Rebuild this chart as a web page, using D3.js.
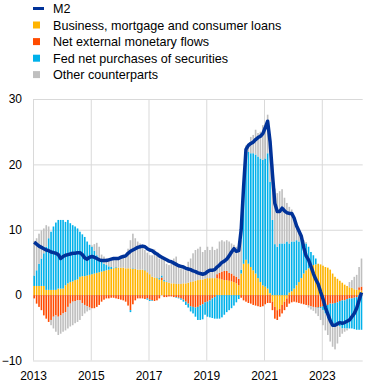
<!DOCTYPE html>
<html>
<head>
<meta charset="utf-8">
<script src="https://cdn.jsdelivr.net/npm/d3@7"></script>
<style>
  body { margin: 0; background: #fff; }
  svg { display: block; font-family: "Liberation Sans", Arial, sans-serif; }
</style>
</head>
<body>
<svg id="chart" width="370" height="386"></svg>
<script>
// monthly categories, Jan 2013 .. May 2024
var months = d3.timeMonth.range(new Date(2013, 0, 1), new Date(2024, 5, 1));

var xTickIdx = [0, 24, 48, 72, 96, 120];
var xTickLabels = ["2013", "2015", "2017", "2019", "2021", "2023"];
var yTicks = [-10, 0, 10, 20, 30];

// contributions, percentage points
var loans = [
  1.4, 1.4, 1.4, 1.4, 1.4, 0.8, 0.8, 0.8, 0.8, 0.8,
  1.0, 1.0, 1.0, 1.5, 1.8, 2.0, 2.1, 2.3, 2.4, 2.8,
  2.9, 2.9, 3.0, 3.1, 3.2, 3.3, 3.4, 3.5, 3.6, 3.7,
  3.8, 3.9, 4.0, 4.1, 4.2, 4.2, 4.2, 4.2, 4.1, 4.1,
  4.1, 4.0, 4.0, 3.9, 3.9, 3.9, 3.8, 3.5, 3.2, 2.8,
  2.7, 2.6, 2.4, 2.3, 2.1, 2.0, 1.9, 1.8, 1.8, 1.7,
  1.7, 1.7, 1.8, 1.8, 1.9, 2.0, 2.1, 2.2, 2.3, 2.4,
  2.4, 2.5, 2.6, 2.6, 2.6, 2.6, 2.6, 2.5, 2.4, 2.3,
  2.3, 2.2, 2.1, 2.0, 1.8, 1.5, 3.3, 4.8, 5.4, 4.8,
  4.3, 3.8, 3.3, 2.6, 2.0, 1.5, 1.3, 1.0, 0.3, -1.0,
  -1.8, -2.3, -2.1, -1.5, -1.0, -0.5, 0.4, 0.6, 1.0, 1.5,
  2.0, 2.6, 3.3, 3.8, 4.1, 4.3, 4.6, 4.7, 4.8, 4.7,
  4.5, 4.3, 4.2, 3.9, 3.3, 2.8, 2.5, 2.2, 1.9, 1.6,
  1.4, 1.2, 1.1, 0.9, 0.8, 0.8, 0.7
];
var external = [
  -0.5, -1.3, -1.8, -2.3, -3.1, -3.6, -4.1, -3.8, -3.3, -3.1,
  -3.3, -3.1, -2.8, -2.6, -1.8, -1.3, -1.0, -0.9, -0.8, -0.8,
  -1.2, -1.5, -1.7, -1.9, -2.0, -2.0, -1.8, -1.5, -1.0, -0.7,
  -0.5, -0.5, -0.4, -0.4, -0.5, -0.6, -0.7, -0.8, -1.0, -1.6,
  -2.3, -1.4, -0.8, -0.5, -0.5, -0.5, -0.6, -0.5, -0.7, -0.8,
  -0.9, -0.8, -0.5, 0.4, -0.3, -0.3, -0.2, -0.2, -0.3, -0.3,
  -0.4, -0.5, -0.7, -1.0, -1.3, -1.7, -1.8, -1.9, -1.8, -1.6,
  -1.4, -1.1, -1.0, -0.8, -0.5, -0.3, 0.6, 0.9, 1.2, 1.4,
  1.4, 1.2, 1.2, 1.0, 1.0, 1.0, -0.4, -0.8, -1.0, -1.2,
  -1.3, -1.5, -1.6, -1.7, -1.8, -1.7, -1.4, -1.2, -1.2, -1.3,
  -1.8, -1.5, -1.2, -1.3, -1.3, -1.3, -1.3, -1.1, -1.0, -1.1,
  -1.2, -1.3, -1.4, -1.5, -1.6, -1.7, -1.8, -1.9, -1.9, -1.8,
  -1.7, -1.6, -1.5, -1.3, -1.3, -1.2, -1.1, -0.9, -0.8, -0.8,
  -0.6, -0.5, -0.5, -0.4, -0.3, 0.4, 0.6
];
var fed = [
  1.6, 2.4, 3.4, 4.2, 5.0, 6.6, 7.9, 8.9, 9.7, 10.3,
  10.5, 10.5, 10.5, 9.7, 9.7, 9.0, 8.6, 8.2, 7.8, 6.9,
  6.4, 6.0, 5.2, 4.6, 4.2, 3.5, 2.7, 2.0, 1.6, 1.1,
  0.8, 0.5, 0.3, 0.1, 0.1, 0.0, 0.0, 0.0, 0.0, 0.0,
  -0.3, 0.1, 0.0, 0.0, 0.0, 0.0, 0.1, -0.2, -0.2, -0.1,
  0.0, 0.1, 0.2, 0.3, 0.2, 0.1, 0.0, 0.0, 0.0, -0.1,
  -0.1, -0.2, -0.3, -0.5, -0.6, -0.8, -1.0, -1.4, -2.0, -2.2,
  -2.3, -1.9, -2.3, -2.6, -3.0, -3.3, -3.6, -3.6, -3.4, -3.0,
  -2.6, -2.3, -2.0, -1.6, -1.1, -0.6, 0.6, 10.5, 15.5, 17.1,
  17.4, 17.9, 18.2, 18.6, 18.9, 19.2, 19.6, 20.7, 17.0, 11.5,
  7.8, 7.4, 7.9, 7.9, 7.9, 8.2, 7.5, 7.6, 7.2, 6.9,
  6.2, 6.1, 4.6, 4.1, 3.3, 2.3, 1.5, 0.9, -0.1, -0.2,
  -0.6, -1.2, -2.1, -2.8, -3.0, -3.2, -3.5, -3.9, -4.3, -4.3,
  -4.5, -4.6, -4.6, -4.8, -5.0, -5.3, -5.3
];
var other = [
  5.3, 4.9, 4.6, 4.3, 3.8, 3.3, 1.8, -0.8, -1.8, -2.5,
  -2.8, -2.8, -2.8, -2.8, -3.3, -3.5, -3.6, -3.4, -3.3, -3.0,
  -2.0, -1.3, -0.8, -0.4, 0.2, 1.0, 1.9, 1.9, 1.0, 1.1,
  1.0, 1.1, 1.2, 1.4, 1.4, 1.5, 1.6, 1.7, 1.9, 3.0,
  4.3, 5.3, 4.7, 4.3, 4.0, 3.5, 3.0, 3.0, 2.9, 3.3,
  4.3, 3.4, 3.0, 2.6, 3.1, 2.7, 2.7, 3.0, 3.8, 4.2,
  2.9, 2.4, 2.3, 2.0, 3.2, 3.6, 4.3, 4.7, 4.8, 5.0,
  4.2, 4.4, 4.8, 4.3, 4.8, 4.3, 3.9, 4.8, 4.8, 4.5,
  4.7, 4.8, 4.6, 4.7, 4.6, 4.4, 4.5, 2.0, 2.0, 1.3,
  2.5, 2.8, 3.8, 3.6, 4.1, 5.3, 4.6, 5.9, 7.2, 8.5,
  8.5, 8.2, 8.0, 8.3, 7.0, 5.9, 5.6, 4.9, 3.9, 2.4,
  1.4, 0.6, 0.5, 0.2, -0.3, -0.5, -0.6, -0.9, -1.2, -1.8,
  -2.3, -2.6, -2.5, -3.0, -3.6, -3.9, -2.8, -1.6, -0.8, -0.5,
  -0.3, 0.8, 1.2, 1.9, 2.3, 3.1, 4.3
];
// M2, annual percentage change
var m2 = [
  8.1, 7.8, 7.5, 7.3, 7.1, 6.9, 6.8, 6.6, 6.5, 6.4,
  6.2, 5.6, 5.9, 6.1, 6.2, 6.3, 6.4, 6.4, 6.5, 6.5,
  6.2, 5.7, 5.5, 5.8, 5.9, 5.8, 5.6, 5.4, 5.3, 5.3,
  5.3, 5.4, 5.5, 5.6, 5.6, 5.6, 5.8, 5.9, 6.0, 6.4,
  6.7, 6.9, 7.1, 7.3, 7.4, 7.5, 7.4, 7.1, 6.9, 6.8,
  6.5, 6.3, 6.0, 5.8, 5.6, 5.4, 5.2, 5.1, 4.9, 4.7,
  4.5, 4.4, 4.3, 4.1, 4.0, 3.9, 3.7, 3.6, 3.4, 3.3,
  3.2, 3.3, 3.6, 3.8, 3.8, 3.9, 4.3, 4.6, 5.0, 5.2,
  5.5, 6.0, 6.6, 7.1, 6.7, 6.8, 10.0, 16.5, 22.3, 22.9,
  23.2, 23.4, 23.8, 24.1, 24.3, 24.7, 25.6, 26.6, 23.5, 18.5,
  14.0, 12.8, 12.8, 13.3, 12.9, 12.6, 12.5, 12.5, 11.8, 10.6,
  9.8, 9.0, 7.3, 6.0, 5.4, 4.4, 3.3, 2.4, 1.7, 0.5,
  -0.6, -1.9, -2.9, -3.9, -4.6, -4.6, -4.4, -4.2, -4.3, -4.2,
  -4.0, -3.8, -3.3, -2.8, -2.0, -0.8, 0.4
];

var seriesKeys = ["loans", "external", "fed", "other"];
var seriesNames = ["Business, mortgage and consumer loans", "Net external monetary flows",
                   "Fed net purchases of securities", "Other counterparts"];
var colors = { loans: "#ffb400", external: "#ff4b00", fed: "#00b1ea", other: "#bfbfbf" };
var m2Color = "#003299";

var rows = months.map(function(m, i) {
  return { date: m, loans: loans[i], external: external[i], fed: fed[i], other: other[i], m2: m2[i] };
});

var plotLeft = 33, plotRight = 362.7, plotTop = 99, plotBottom = 360.5;
var svg = d3.select("#chart");

var x = d3.scaleBand().domain(months).range([plotLeft, plotRight]).paddingInner(0.33).paddingOuter(0.165);
var xi = d3.scaleLinear().domain([0, months.length]).range([plotLeft, plotRight]);
var y = d3.scaleLinear().domain([-10, 30]).range([plotBottom, plotTop]);

// grid + axes
var yAxis = svg.append("g").attr("transform", "translate(" + plotLeft + ",0)")
  .call(d3.axisLeft(y).tickValues(yTicks).tickSize(-(plotRight - plotLeft)).tickPadding(11));
var xAxis = svg.append("g").attr("transform", "translate(0," + plotBottom + ")")
  .call(d3.axisBottom(xi).tickValues(xTickIdx).tickSize(-(plotBottom - plotTop)).tickPadding(10.5)
    .tickFormat(function(d, i) { return xTickLabels[i]; }));

[yAxis, xAxis].forEach(function(ax) {
  ax.select(".domain").remove();
  ax.selectAll(".tick line").attr("stroke", "#d9d9d9").attr("stroke-width", 1);
  ax.selectAll(".tick text").attr("fill", "#000").style("font-size", "12px")
    .style("font-family", '"Liberation Sans", Arial, sans-serif');
});

// stacked bars
var stack = d3.stack().keys(seriesKeys).offset(d3.stackOffsetDiverging);
var layers = stack(rows);

svg.append("g").selectAll("g").data(layers).enter().append("g")
  .attr("fill", function(d) { return colors[d.key]; })
  .selectAll("rect").data(function(d) { return d; }).enter().append("rect")
  .attr("x", function(d) { return x(d.data.date); })
  .attr("width", x.bandwidth())
  .attr("y", function(d) { return y(Math.max(d[0], d[1])); })
  .attr("height", function(d) { return Math.abs(y(d[0]) - y(d[1])); });

// M2 line
var line = d3.line()
  .x(function(d) { return x(d.date) + x.bandwidth() / 2; })
  .y(function(d) { return y(d.m2); });

svg.append("path").datum(rows)
  .attr("fill", "none")
  .attr("stroke", m2Color)
  .attr("stroke-width", 3.5)
  .attr("stroke-linejoin", "round")
  .attr("d", line);

// legend
var legendY = [8.5, 25, 41.6, 58.2, 74.6];
var legend = svg.append("g");
legend.append("line")
  .attr("x1", 33).attr("x2", 44).attr("y1", legendY[0]).attr("y2", legendY[0])
  .attr("stroke", m2Color).attr("stroke-width", 3);
legend.append("text").attr("x", 53).attr("y", legendY[0] + 4.5).text("M2");
seriesKeys.forEach(function(k, i) {
  legend.append("rect")
    .attr("x", 33).attr("y", legendY[i + 1] - 3.5).attr("width", 7).attr("height", 7)
    .attr("fill", colors[k]);
  legend.append("text").attr("x", 53).attr("y", legendY[i + 1] + 4.5).text(seriesNames[i]);
});
legend.selectAll("text").attr("fill", "#000").style("font-size", "12.6px");
</script>
</body>
</html>
